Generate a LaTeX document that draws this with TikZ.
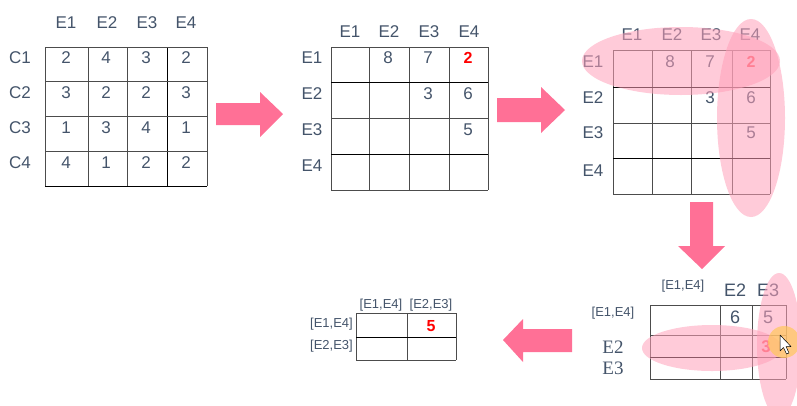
\documentclass[tikz,border=0pt]{standalone}
\usepackage{fontspec}
\setmainfont{Liberation Sans}
\newfontfamily\serifE{Liberation Serif}
\usepackage{tikz}
\usetikzlibrary{calc}
\definecolor{txt}{HTML}{44546A}
\definecolor{arw}{RGB}{255,112,150}
\definecolor{hilite}{RGB}{255,160,185}
\definecolor{spot}{RGB}{255,200,90}

\begin{document}
\begin{tikzpicture}[x=1pt,y=-1pt,
    lbl/.style={font=\fontsize{17}{17}\selectfont,text=txt,inner sep=0pt},
    big/.style={font=\fontsize{18}{18}\selectfont,text=txt,inner sep=0pt},
    sml/.style={font=\fontsize{13}{13}\selectfont,text=txt,inner sep=0pt},
    hot/.style={font=\bfseries\fontsize{16}{16}\selectfont,text=red,inner sep=0pt},
    gline/.style={gray!60!black,line width=0.8pt},
    bline/.style={black,line width=0.9pt},
    blockarrow/.style={fill=arw,draw=none},
    oval/.style={fill=hilite,fill opacity=0.55,draw=none}]
  \useasboundingbox(0,0)rectangle(797,405);%画面

  %行列1 C×E
  \foreach \x in{45,88,127,207}
      \draw[gline](\x,47)--(\x,186);
  \draw[bline](167,47)--(167,186);
  \foreach \y in{47,81,116,151}
      \draw[gline](45,\y)--(207,\y);
  \draw[bline](45,186)--(207,186);
  \foreach \t/\x in{1/66,2/107,3/147,4/186}
      \node[lbl](ha\t)at(\x,23){E\t};%列見出し
  \foreach \t/\y in{1/58,2/93,3/128,4/163}
      \node[lbl](ra\t)at(20,\y){C\t};%行見出し
  \foreach \r/\vals in{0/{2,4,3,2},1/{3,2,2,3},2/{1,3,4,1},3/{4,1,2,2}}
      \foreach \v[count=\c from 0]in\vals
          \node[lbl](a\r\c)at(66+40*\c,58+35*\r){\v};%値

  %矢印1
  \fill[blockarrow](216,103)--(260,103)--(260,92)--(283,114)
      --(260,137)--(260,125)--(216,125)--cycle;

  %行列2 E×E
  \foreach \x in{331,369,409,449,488}
      \draw[gline](\x,47)--(\x,190);
  \foreach \y in{47,118,190}
      \draw[gline](331,\y)--(488,\y);
  \foreach \y in{82,154}
      \draw[bline](331,\y)--(488,\y);
  \foreach \t/\x in{1/350,2/389,3/429,4/469}
      \node[lbl](hb\t)at(\x,32){E\t};
  \foreach \t/\y in{1/58,2/94,3/130,4/166}
      \node[lbl](rb\t)at(312,\y){E\t};
  \foreach \n/\x/\y/\v in{12/388/58/8,13/428/58/7,23/428/94/3,24/468/94/6,34/468/130/5}
      \node[lbl](b\n)at(\x,\y){\v};
  \node[hot](b14)at(468,58){2};%最小

  %矢印2
  \fill[blockarrow](497,98)--(541,98)--(541,87)--(565,110)
      --(541,133)--(541,122)--(497,122)--cycle;

  %行列3 E×E (選択)
  \foreach \x in{613,652,691,732,770}
      \draw[gline](\x,50)--(\x,194);
  \foreach \y in{50,123,194}
      \draw[gline](613,\y)--(770,\y);
  \foreach \y in{87,158}
      \draw[bline](613,\y)--(770,\y);
  \foreach \t/\x in{1/632,2/672,3/711,4/750}
      \node[lbl](hc\t)at(\x,35){E\t};
  \foreach \t/\y in{1/62,2/98,3/133,4/171}
      \node[lbl](rc\t)at(593,\y){E\t};
  \foreach \n/\x/\y/\v in{12/670/62/8,13/710/62/7,23/710/98/3,24/751/98/6,34/751/133/5}
      \node[lbl](c\n)at(\x,\y){\v};
  \node[hot](c14)at(751,62){2};
  \fill[oval](681,61)ellipse[x radius=99,y radius=34];%E1行
  \fill[oval](751,118)ellipse[x radius=34,y radius=99];%E4列

  %矢印3
  \fill[blockarrow](690,202)--(713,202)--(713,246)--(725,246)
      --(702,269)--(678,246)--(690,246)--cycle;

  %行列4 [E1,E4]を併合
  \foreach \x in{650,720,752,786}
      \draw[gline](\x,305)--(\x,379);
  \foreach \y in{305,335,379}
      \draw[gline](650,\y)--(786,\y);
  \draw[bline](650,357)--(786,357);
  \node[sml](hd1)at(683,286){[E1,E4]};
  \node[big](hd2)at(735,290){E2};
  \node[big](hd3)at(768,290){E3};
  \node[sml](rd1)at(613,313){[E1,E4]};
  \node[big,font=\serifE\fontsize{19}{19}\selectfont](rd2)at(613,347){E2};
  \node[big,font=\serifE\fontsize{19}{19}\selectfont](rd3)at(613,368){E3};
  \node[big](d12)at(735,317){6};
  \node[big](d13)at(768,317){5};
  \node[hot,font=\bfseries\fontsize{17}{17}\selectfont](d23)at(766,347){3};
  \fill[oval](712,348)ellipse[x radius=70,y radius=23];%E2行
  \fill[oval](779,345)ellipse[x radius=22,y radius=72];%E3列
  \fill[spot,fill opacity=0.7](784,342)circle[radius=16];%ポインタ
  \draw[black,fill=white,line width=0.5pt,line join=round](780,335)--(780,351)--(783.5,347.5)
      --(786.5,354)--(789,353)--(786,346.5)--(791,346.5)--cycle;%カーソル

  %矢印4
  \fill[blockarrow](572,329)--(523,329)--(523,319)--(503,340)
      --(523,362)--(523,352)--(572,352)--cycle;

  %行列5 [E1,E4]×[E2,E3]
  \foreach \x in{356,407,456}
      \draw[gline](\x,313)--(\x,360);
  \foreach \y in{313,360}
      \draw[gline](356,\y)--(456,\y);
  \draw[bline](356,337)--(456,337);
  \node[sml](he1)at(381,305){[E1,E4]};
  \node[sml](he2)at(431,305){[E2,E3]};
  \node[sml,anchor=east](re1)at(353,324){[E1,E4]};
  \node[sml,anchor=east](re2)at(353,346){[E2,E3]};
  \node[hot](e12)at(431,326){5};%結果
\end{tikzpicture}
\end{document}
